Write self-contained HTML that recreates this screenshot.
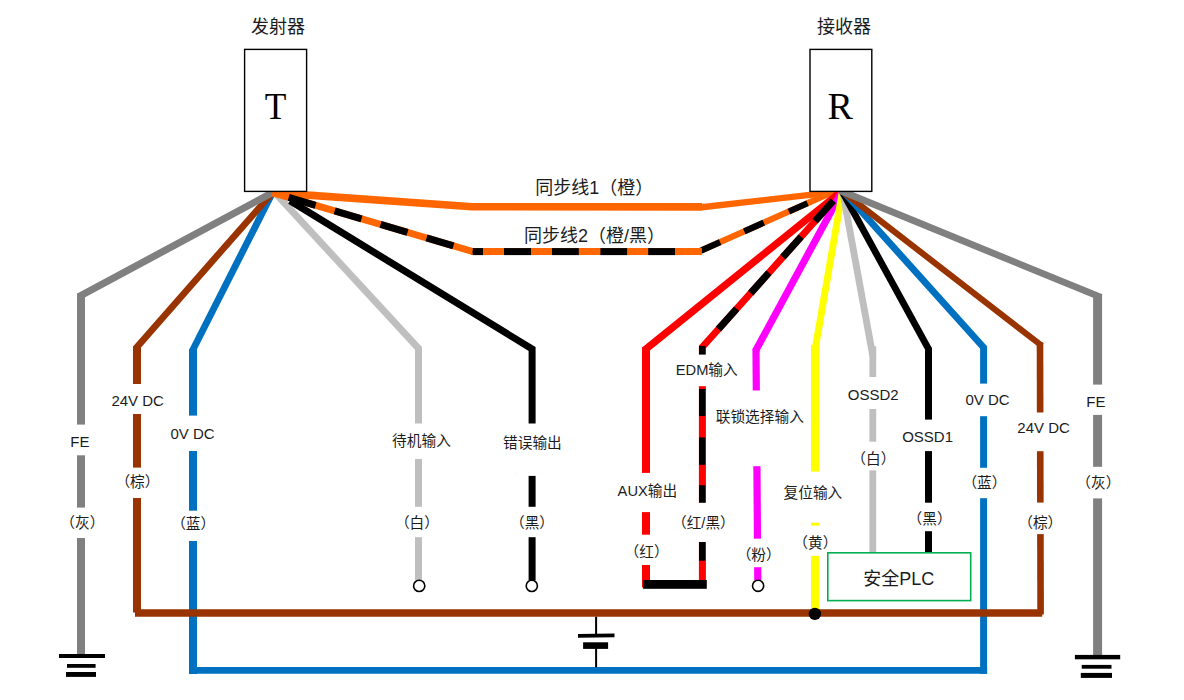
<!DOCTYPE html>
<html><head><meta charset="utf-8"><title>wiring</title>
<style>html,body{margin:0;padding:0;background:#fff;font-family:"Liberation Sans",sans-serif}svg{display:block}</style>
</head><body>
<svg width="1184" height="700" viewBox="0 0 1184 700">
<rect width="1184" height="700" fill="#fff"/>
<g fill="none" stroke-linejoin="miter" stroke-miterlimit="10" stroke-linecap="butt">
<polygon points="275.17,187.83 422.2,347.35 417.06,352.1 270.03,192.57" fill="#bfbfbf"/>
<polygon points="415,346.9 422,346.9 422,580.5 415,580.5" fill="#bfbfbf"/>
<polygon points="269.47,191.06 188.86,350.14 194.93,353.21 275.53,194.14" fill="#0070c0"/>
<polygon points="189,349.2 197,349.2 197,674 189,674" fill="#0070c0"/>
<polygon points="270.02,190.42 132.8,346.78 137.76,351.13 274.98,194.78" fill="#993300"/>
<polygon points="133,346.2 141,346.2 141,612.6 133,612.6" fill="#993300"/>
<polygon points="270.82,189.47 76.74,293.76 80.1,300.02 274.18,195.73" fill="#808080"/>
<polygon points="77,293.6 85,293.6 85,654.5 77,654.5" fill="#808080"/>
<polyline points="272.5,192.6 472.3,206.8 702,206.9" stroke="#ff6600" stroke-width="7.6" />
<polyline points="701.6,207.25 842.5,191.2" stroke="#ff6600" stroke-width="6.3" />
<polyline points="701.9,250.2 833,191.9" stroke="#ff6600" stroke-width="6.2" />
<polyline points="700.5,250.82 720.1,242.11" stroke="#000" stroke-width="6.2" />
<polyline points="744.3,231.34 763.8,222.67" stroke="#000" stroke-width="6.2" />
<polyline points="788.9,211.51 807.5,203.24" stroke="#000" stroke-width="6.2" />
<polyline points="272.5,192.6 472.8,251.6 701.9,251.6" stroke="#ff6600" stroke-width="7" />
<polyline points="272.5,192.6 472.8,251.6" stroke="#000" stroke-width="7" stroke-dasharray="28 19.9" stroke-dashoffset="31"/>
<polyline points="472.8,251.6 483,251.6" stroke="#000" stroke-width="7" />
<polyline points="504,251.6 531,251.6" stroke="#000" stroke-width="7" />
<polyline points="552,251.6 578.8,251.6" stroke="#000" stroke-width="7" />
<polyline points="600.4,251.6 627.1,251.6" stroke="#000" stroke-width="7" />
<polyline points="648.2,251.6 675,251.6" stroke="#000" stroke-width="7" />
<polyline points="290,200.85 532.1,349 532.1,580.5" stroke="#000" stroke-width="7" />
<polygon points="840.21,187.66 641.69,347.79 646.27,353.47 844.79,193.34" fill="#ff0000"/>
<polygon points="642,347.6 650,347.6 650,587.6 642,587.6" fill="#ff0000"/>
<polygon points="839.38,188.81 752.09,349.76 758.33,353.15 845.62,192.19" fill="#ff00ff"/>
<polygon points="752.4,349.5 759.6,349.5 761.4,580.5 754.2,580.5" fill="#ff00ff"/>
<polyline points="833.3,200.78 702.4,347 702.4,581" stroke="#ff0000" stroke-width="7" />
<polyline points="833.3,200.78 815.09,221.12" stroke="#000" stroke-width="7" />
<polyline points="801.08,236.77 782.87,257.11" stroke="#000" stroke-width="7" />
<polyline points="768.86,272.76 750.66,293.1" stroke="#000" stroke-width="7" />
<polyline points="736.65,308.74 718.44,329.08" stroke="#000" stroke-width="7" />
<polyline points="702.2,345.9 702.2,368" stroke="#000" stroke-width="6.4" />
<polyline points="702.2,389 702.2,416" stroke="#000" stroke-width="6.4" />
<polyline points="702.2,437.5 702.2,464.8" stroke="#000" stroke-width="6.4" />
<polyline points="702.2,485.2 702.2,512.4" stroke="#000" stroke-width="6.4" />
<polyline points="702.2,533.4 702.2,560.7" stroke="#000" stroke-width="6.4" />
<polygon points="839.1,189.91 810.95,353.25 817.75,354.43 845.9,191.09" fill="#ffff00"/>
<polygon points="811,344.9 819,344.9 819,611 811,611" fill="#ffff00"/>
<polygon points="845.89,189.88 876.25,355.39 869.47,356.63 839.11,191.12" fill="#bfbfbf"/>
<polygon points="869.4,346.2 876.2,346.2 876.2,552.5 869.4,552.5" fill="#bfbfbf"/>
<polygon points="844.68,188.87 932.14,348.58 926.18,351.84 838.72,192.13" fill="#000"/>
<polygon points="925,347.4 932,347.4 932,552.5 925,552.5" fill="#000"/>
<polygon points="845.03,188.23 987.3,346.43 982.24,350.98 839.97,192.77" fill="#0070c0"/>
<polygon points="980.1,346.1 987.1,346.1 987.1,673.7 980.1,673.7" fill="#0070c0"/>
<polygon points="843.07,188.09 1043.53,343.28 1039.8,348.1 839.33,192.91" fill="#993300"/>
<polygon points="1036.7,342.5 1043.3,342.5 1043.9,614.5 1037.3,614.5" fill="#993300"/>
<polygon points="841.29,187.35 1102.45,294.31 1099.88,300.61 838.71,193.65" fill="#808080"/>
<polygon points="1093.1,294.2 1102.1,294.2 1102.1,655 1093.1,655" fill="#808080"/>
<polyline points="189,670.4 987.1,670.4" stroke="#0070c0" stroke-width="6.8" />
<polyline points="135,613 1042.2,613" stroke="#993300" stroke-width="7.7" />
</g>
<rect x="74" y="424.6" width="14" height="30.7" fill="#fff"/>
<rect x="74" y="507.6" width="14" height="30.4" fill="#fff"/>
<rect x="130" y="384" width="14" height="30" fill="#fff"/>
<rect x="130" y="467.6" width="14" height="30.4" fill="#fff"/>
<rect x="186" y="415.6" width="14" height="35.4" fill="#fff"/>
<rect x="186" y="510.7" width="14" height="30.3" fill="#fff"/>
<rect x="411.5" y="423.5" width="14" height="35.5" fill="#fff"/>
<rect x="411.5" y="506.8" width="14" height="30.4" fill="#fff"/>
<rect x="525.3" y="423.5" width="14" height="52.4" fill="#fff"/>
<rect x="525.3" y="506.8" width="14" height="30.4" fill="#fff"/>
<rect x="639" y="472.9" width="14" height="39.2" fill="#fff"/>
<rect x="639" y="534.7" width="14" height="30.3" fill="#fff"/>
<rect x="695.4" y="354.6" width="14" height="31.6" fill="#fff"/>
<rect x="695.4" y="502.8" width="14" height="39.2" fill="#fff"/>
<rect x="750" y="390.5" width="14" height="75.7" fill="#fff"/>
<rect x="750.5" y="538.7" width="14" height="28.5" fill="#fff"/>
<rect x="808" y="471.6" width="14" height="51.1" fill="#fff"/>
<rect x="808" y="525.7" width="14" height="30.1" fill="#fff"/>
<rect x="865.6" y="377" width="14" height="32" fill="#fff"/>
<rect x="865.6" y="441.7" width="14" height="28.6" fill="#fff"/>
<rect x="921.5" y="419.6" width="14" height="31.5" fill="#fff"/>
<rect x="921.5" y="502.7" width="14" height="28.5" fill="#fff"/>
<rect x="976.6" y="383.6" width="14" height="32.6" fill="#fff"/>
<rect x="976.6" y="467.8" width="14" height="30.4" fill="#fff"/>
<rect x="1033.2" y="412.5" width="14" height="38.7" fill="#fff"/>
<rect x="1033.4" y="502.6" width="14" height="31.5" fill="#fff"/>
<rect x="1090.6" y="384.6" width="14" height="30.3" fill="#fff"/>
<rect x="1090.6" y="466.8" width="14" height="31.6" fill="#fff"/>
<rect x="244.6" y="49.4" width="62" height="142" fill="#fff" stroke="#000" stroke-width="1.4"/>
<rect x="810" y="49.4" width="61.8" height="142" fill="#fff" stroke="#000" stroke-width="1.4"/>
<text x="275.6" y="119.4" transform="translate(275.6 0) scale(0.93 1) translate(-275.6 0)" font-family="'Liberation Serif', serif" font-size="38" text-anchor="middle" fill="#000">T</text>
<text x="840.1" y="119.2" font-family="'Liberation Serif', serif" font-size="38" text-anchor="middle" fill="#000">R</text>
<rect x="827.8" y="552.8" width="142.9" height="47.8" fill="#fff" stroke="#00b050" stroke-width="1.6"/>
<rect x="643.1" y="580" width="63.7" height="8.8" fill="#000"/>
<circle cx="419.2" cy="585.9" r="5.6" fill="#fff" stroke="#000" stroke-width="1.6"/>
<circle cx="531.8" cy="585.9" r="5.6" fill="#fff" stroke="#000" stroke-width="1.6"/>
<circle cx="758.1" cy="585.8" r="5.6" fill="#fff" stroke="#000" stroke-width="1.6"/>
<circle cx="814.9" cy="613.9" r="6.2" fill="#000"/>
<rect x="595.1" y="616.8" width="2" height="17.5" fill="#000"/>
<rect x="595.1" y="648.5" width="2" height="18.8" fill="#000"/>
<polygon points="578,634.1 614.5,633.6 614.5,637.3 578,637.8" fill="#000"/>
<rect x="583.1" y="642.3" width="25" height="6.6" fill="#000"/>
<rect x="59" y="654" width="46" height="4" fill="#000"/>
<rect x="67" y="664" width="28.6" height="3.8" fill="#000"/>
<rect x="66" y="672" width="30" height="4.9" fill="#000"/>
<rect x="1074.9" y="654.9" width="45.3" height="4.4" fill="#000"/>
<rect x="1081.7" y="664.9" width="29.8" height="3.8" fill="#000"/>
<rect x="1080.8" y="672.9" width="31.2" height="5" fill="#000"/>
<line x1="515" y1="472.6" x2="545" y2="472.6" stroke="#e8e8f0" stroke-width="0.6" stroke-dasharray="1 12"/>
<g font-family="'Liberation Sans', 'Noto Sans CJK SC', sans-serif" fill="#1c1c1c" text-anchor="middle">
<text x="277.9" y="32.58" font-size="18">发射器</text>
<text x="843.9" y="32.55" font-size="18">接收器</text>
<text x="594.3" y="194.32" font-size="18">同步线1（橙）</text>
<text x="594.4" y="241.79" font-size="18">同步线2（橙/黑）</text>
<text x="898.75" y="585" font-size="18">安全PLC</text>
<text x="79.9" y="447.04" font-size="15">FE</text>
<text x="137.7" y="405.79" font-size="15">24V DC</text>
<text x="192.5" y="438.79" font-size="15">0V DC</text>
<text x="137.45" y="486.74" font-size="14.7">（棕）</text>
<text x="82.3" y="527.84" font-size="14.7">（灰）</text>
<text x="193.2" y="528.59" font-size="14.7">（蓝）</text>
<text x="421.5" y="446.31" font-size="14.7">待机输入</text>
<text x="532.4" y="448.44" font-size="14.7">错误输出</text>
<text x="416.95" y="528.24" font-size="14.7">（白）</text>
<text x="532" y="528.24" font-size="14.7">（黑）</text>
<text x="647.4" y="496.22" font-size="14.7">AUX输出</text>
<text x="646.65" y="557.39" font-size="14.7">（红）</text>
<text x="706.75" y="374.67" font-size="14.7">EDM输入</text>
<text x="703.4" y="527.87" font-size="14.7">（红/黑）</text>
<text x="759.8" y="422.48" font-size="14.7">联锁选择输入</text>
<text x="758.7" y="559.64" font-size="14.7">（粉）</text>
<text x="812.9" y="497.59" font-size="14.7">复位输入</text>
<text x="815.35" y="547.84" font-size="14.7">（黄）</text>
<text x="873.3" y="400.19" font-size="15">OSSD2</text>
<text x="873.35" y="463.99" font-size="14.7">（白）</text>
<text x="927.6" y="441.89" font-size="15">OSSD1</text>
<text x="929.55" y="523.89" font-size="14.7">（黑）</text>
<text x="987.6" y="405.19" font-size="15">0V DC</text>
<text x="984.45" y="488.44" font-size="14.7">（蓝）</text>
<text x="1043.6" y="432.79" font-size="15">24V DC</text>
<text x="1040.25" y="527.99" font-size="14.7">（棕）</text>
<text x="1095.9" y="407.09" font-size="15">FE</text>
<text x="1098.35" y="488.44" font-size="14.7">（灰）</text>
</g>
</svg>
</body></html>
